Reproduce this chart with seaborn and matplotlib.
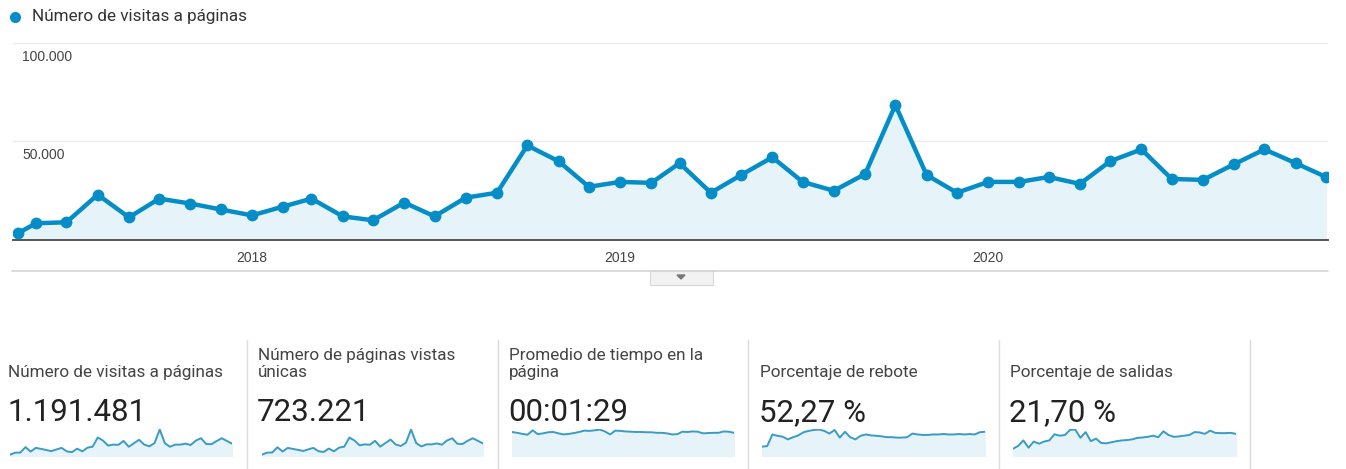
import numpy as np
import pandas as pd
import seaborn as sns
import matplotlib.pyplot as plt
from matplotlib.lines import Line2D
from matplotlib.patches import Rectangle, Polygon
import matplotlib.transforms as mtrans

W, H = 1346, 469

# monthly data
fechas = pd.to_datetime(["2017-05-14"]).append(
    pd.date_range("2017-06-01", "2020-12-01", freq="MS"))

visitas = [3500, 8500, 9000, 23000, 11500, 21000, 18500, 15500, 12500, 17000,
           21000, 12000, 10000, 19000, 12000, 21500, 24000, 48000, 40000, 27000,
           29500, 29000, 39000, 24000, 33000, 42000, 29500, 25000, 33500, 68500,
           33000, 24000, 29500, 29500, 32000, 28500, 40000, 46000, 31000, 30500,
           38500, 46000, 39000, 32000]

unicas = [2100, 5200, 5500, 13500, 7000, 12500, 11000, 9500, 7800, 10300,
          12500, 7400, 6200, 11500, 7300, 13000, 14500, 28500, 24000, 16500,
          18000, 17500, 23500, 14500, 20000, 25500, 18000, 15500, 20500, 41000,
          20000, 14800, 18000, 18000, 19500, 17500, 24000, 27500, 19000, 18500,
          23500, 27500, 23500, 19500]

# seconds
tiempo = [88, 85, 81, 78, 94, 80, 83, 87, 88, 83, 79, 81, 84, 88, 93, 92, 94,
          97, 90, 79, 93, 92, 90, 89, 88, 88, 87, 87, 85, 85, 83, 79, 80, 89,
          88, 90, 89, 83, 84, 85, 85, 90, 89, 85]

rebote = [21, 22, 48, 45, 43, 37, 42, 46, 53, 56, 58, 59, 56, 50, 58, 41, 54,
          42, 37, 45, 48, 46, 45, 44, 42, 42, 41, 41, 42, 50, 48, 47, 47, 48,
          48, 49, 48, 48, 49, 48, 49, 48, 53, 54]

salidas = [7.7, 10.7, 16.5, 8.8, 15.3, 13.0, 15.3, 16.5, 23.0, 21.5, 22.2,
           27.6, 28.0, 19.2, 25.3, 15.7, 18.4, 13.8, 13.4, 14.6, 15.7, 16.5,
           16.9, 17.6, 19.2, 19.6, 20.3, 21.5, 19.9, 26.1, 22.2, 20.3, 20.7,
           21.5, 22.2, 25.3, 24.9, 23.4, 26.8, 24.5, 24.2, 24.2, 24.5, 23.4]

titulos = ["Número de visitas a páginas", "Número de páginas vistas\núnicas",
           "Promedio de tiempo en la\npágina", "Porcentaje de rebote",
           "Porcentaje de salidas"]
totales = ["1.191.481", "723.221", "00:01:29", "52,27 %", "21,70 %"]
series = [visitas, unicas, tiempo, rebote, salidas]

y_ticks = [50000, 100000]
year_ticks = pd.to_datetime(["2018-01-01", "2019-01-01", "2020-01-01"])
year_labels = ["2018", "2019", "2020"]

AZUL = "#058dc7"
RELLENO = "#e6f3f9"

sns.set_theme(style="white")
plt.rcParams["font.family"] = ["Roboto", "DejaVu Sans"]


def box(x0, y0, x1, y1):
    # pixel box (top-left origin) -> figure fraction rect
    return [x0 / W, 1 - y1 / H, (x1 - x0) / W, (y1 - y0) / H]


fig = plt.figure(figsize=(W / 100, H / 100), dpi=100)

# ---- main chart
df = pd.DataFrame({"fecha": fechas, "visitas": visitas})
ax = fig.add_axes(box(13, 43, 1328, 240))
ax.fill_between(df["fecha"], df["visitas"], color=RELLENO, zorder=1)
sns.lineplot(data=df, x="fecha", y="visitas", ax=ax, color=AZUL, lw=3.2,
             marker="o", markersize=8.5, markeredgewidth=0, zorder=3)
ax.set_xlim(fechas[0] - pd.Timedelta(days=5), fechas[-1] + pd.Timedelta(days=2))
ax.set_ylim(0, 100000)
ax.set_yticks(y_ticks)
ax.set_yticklabels([])
ax.yaxis.grid(True, color="#ececec", lw=1)
ax.set_xticks(year_ticks)
ax.set_xticklabels(year_labels, family="Liberation Sans")
ax.tick_params(axis="x", length=0, pad=8, labelsize=10, labelcolor="#444")
ax.tick_params(axis="y", length=0)
ax.set_xlabel("")
ax.set_ylabel("")
for s in ["top", "left", "right"]:
    ax.spines[s].set_visible(False)
ax.spines["bottom"].set_color("#555")
ax.spines["bottom"].set_linewidth(1.4)
ax.patch.set_alpha(0)

tr = mtrans.blended_transform_factory(ax.transAxes, ax.transData)
for v in y_ticks:
    ax.annotate(f"{v:,}".replace(",", "."), xy=(0.007, v), xycoords=tr,
                xytext=(0, -5), textcoords="offset points", va="top",
                ha="left", fontsize=10, color="#444", family="Liberation Sans")

# legend
fig.add_artist(Line2D([15 / W], [1 - 17 / H], marker="o", color=AZUL,
                      markersize=8, markeredgewidth=0, lw=0))
fig.text(32 / W, 1 - 17 / H, "Número de visitas a páginas", fontsize=12.3,
         color="#333", va="center", ha="left")

# separator line + toggle button under the axis
fig.add_artist(Line2D([12 / W, 1328 / W], [1 - 271 / H] * 2, color="#d4d4d4",
                      lw=1.2))
fig.add_artist(Rectangle((650 / W, 1 - 285 / H), 63 / W, 14 / H,
                         transform=fig.transFigure, facecolor="#f2f2f2",
                         edgecolor="#d8d8d8", lw=0.8))
fig.add_artist(Polygon([[677 / W, 1 - 275 / H], [685 / W, 1 - 275 / H],
                        [681 / W, 1 - 279 / H]], closed=True,
                       transform=fig.transFigure, color="#777"))

# ---- metric panels
panel_x = [8, 258, 509, 760, 1010]
spark_x = [(10, 232), (262, 483), (512, 734), (762, 985), (1013, 1236)]
for i in range(5):
    x0 = panel_x[i]
    fig.text(x0 / W, 1 - 377 / H, titulos[i], fontsize=12.3, color="#444",
             va="baseline", ha="left", linespacing=1.15)
    fig.text((x0 - 1) / W, 1 - 421 / H, totales[i], fontsize=22.5,
             color="#222", va="baseline", ha="left")
    sx0, sx1 = spark_x[i]
    sax = fig.add_axes(box(sx0, 429, sx1, 456))
    sdf = pd.DataFrame({"i": np.arange(len(series[i])), "v": series[i]})
    sax.fill_between(sdf["i"], sdf["v"], color=RELLENO)
    sns.lineplot(data=sdf, x="i", y="v", ax=sax, color="#3a9cc4", lw=1.4)
    sax.set_xlim(0, len(series[i]) - 1)
    sax.set_ylim(0, max(series[i]) * 1.02)
    sax.axis("off")

for xs in [247, 498, 748, 999, 1250]:
    fig.add_artist(Line2D([xs / W] * 2, [1 - 340 / H, 0], color="#dcdcdc",
                          lw=1))

fig.savefig("out.png", dpi=100, facecolor="white")
